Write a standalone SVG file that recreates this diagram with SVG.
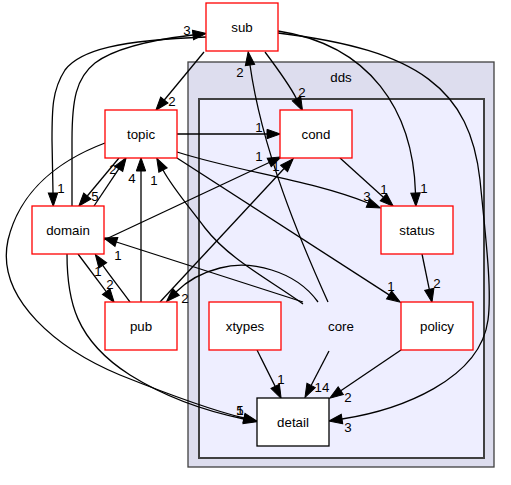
<svg xmlns="http://www.w3.org/2000/svg" width="511" height="485" viewBox="0 0 511 485">
<style>
text{font-family:"Liberation Sans",Arial,Helvetica,sans-serif;font-size:13.3px;fill:#000;text-anchor:middle}
.n rect{fill:#fff;stroke:#f00;stroke-width:1.3}
.e path{fill:none;stroke:#000;stroke-width:1.3}
</style>
<defs>
<marker id="a" markerUnits="userSpaceOnUse" markerWidth="14" markerHeight="10" refX="0" refY="4.7" orient="auto" overflow="visible">
<path d="M0,0 L13.3,4.7 L0,9.4 z" fill="#000" stroke="#000"/>
</marker>
</defs>
<rect width="511" height="485" fill="#fff"/>
<g id="cluster_dds">
<rect x="188" y="62" width="306" height="405" fill="#ddddee" stroke="#404040" stroke-width="1.3"/>
<text x="341" y="82">dds</text>
</g>
<g id="cluster_core">
<rect x="199" y="99" width="285" height="359" fill="#eeeeff" stroke="#404040" stroke-width="2"/>
</g>
<g class="e" id="edges" marker-end="url(#a)">
<path d="M204,52 L164.3,100"/>
<path d="M265,52 C277,68 289,84 296.5,98.7"/>
<path d="M278,31 C370,45 413,110 415.5,193"/>
<path d="M278,33 C420,50 470,90 480,180 C486,240 492,290 488,320 C480,380 400,410 342,419"/>
<path d="M206,37 C120,40 80,50 65,70 C52,90 52,110 52,140 L53,193"/>
<path d="M72,206 L72,140 C72,100 76,78 95,63 C115,48 150,40 193,35"/>
<path d="M119,158 L87.3,196"/>
<path d="M94,206 L118.8,168.8"/>
<path d="M141,302 L141,171"/>
<path d="M303,304 C270,280 230,260 205,228 C190,208 172,187 163,170"/>
<path d="M177,134 L267,134"/>
<path d="M177,152 C240,172 310,180 368,203"/>
<path d="M177,158 L389.1,294.9"/>
<path d="M105,143 C60,160 20,190 8,240 C-5,300 60,350 120,375 C170,395 210,410 244,418"/>
<path d="M67,254 C67,300 75,340 130,375 C170,400 210,412 244,419"/>
<path d="M104,240 L269.2,162.5"/>
<path d="M303,302 L116.4,242"/>
<path d="M78,254 L106.2,291.6"/>
<path d="M130,302 C120,288 110,276 102.8,265.4"/>
<path d="M318,302 C295,270 250,260 220,268 C200,273 185,283 176,292"/>
<path d="M160,302 L284.1,168.5"/>
<path d="M328,302 C300,240 262,150 250,65"/>
<path d="M340,158 L383.4,197.3"/>
<path d="M422,254 L429.3,289.3"/>
<path d="M257,350 L275.2,386.4"/>
<path d="M329,351 L311.1,385.5"/>
<path d="M401,350 L340.8,390.7"/>
</g>
<g id="edge_labels">
<text x="187" y="35">3</text>
<text x="240" y="77">2</text>
<text x="172" y="106">2</text>
<text x="302" y="97">2</text>
<text x="259" y="132">1</text>
<text x="259" y="161">1</text>
<text x="276" y="171">1</text>
<text x="61" y="193">1</text>
<text x="95" y="201">5</text>
<text x="113" y="174">2</text>
<text x="132" y="183">4</text>
<text x="154" y="185">1</text>
<text x="118" y="260">1</text>
<text x="98" y="276">1</text>
<text x="110" y="289">2</text>
<text x="185" y="303">2</text>
<text x="367" y="201">3</text>
<text x="384" y="194">1</text>
<text x="424" y="193">1</text>
<text x="391" y="291">1</text>
<text x="437" y="288">2</text>
<text x="281" y="384">1</text>
<text x="322" y="392">14</text>
<text x="348" y="402">2</text>
<text x="348" y="432">3</text>
<text x="240" y="415">5</text>
<text x="240" y="415">1</text>
</g>
<g class="n" id="node_sub"><rect x="206" y="3" width="72" height="48"/><text x="242" y="32">sub</text></g>
<g class="n" id="node_topic"><rect x="105" y="110" width="72" height="48"/><text x="141" y="139">topic</text></g>
<g class="n" id="node_cond"><rect x="280" y="110" width="72" height="48"/><text x="316" y="139">cond</text></g>
<g class="n" id="node_domain"><rect x="32" y="206" width="72" height="48"/><text x="68" y="235">domain</text></g>
<g class="n" id="node_status"><rect x="381" y="206" width="72" height="48"/><text x="417" y="235">status</text></g>
<g class="n" id="node_pub"><rect x="105" y="302" width="72" height="48"/><text x="141" y="331">pub</text></g>
<g class="n" id="node_xtypes"><rect x="209" y="302" width="72" height="48"/><text x="245" y="331">xtypes</text></g>
<g id="node_core"><text x="341" y="331">core</text></g>
<g class="n" id="node_policy"><rect x="401" y="302" width="72" height="48"/><text x="437" y="331">policy</text></g>
<g id="node_detail"><rect x="257" y="398" width="72" height="48" fill="#fff" stroke="#000" stroke-width="1.3"/><text x="293" y="427">detail</text></g>
</svg>
